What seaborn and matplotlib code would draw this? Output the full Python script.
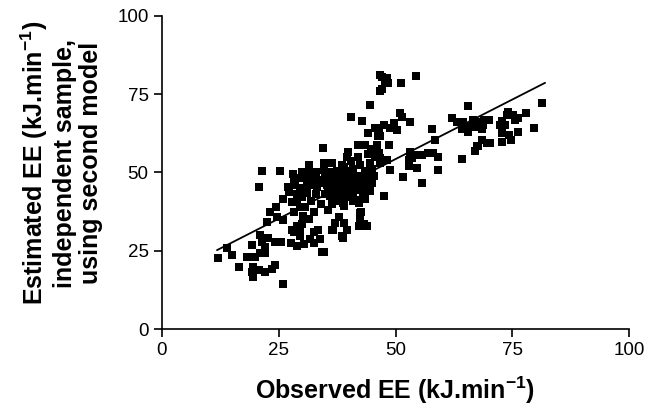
import pandas as pd
import matplotlib.pyplot as plt
import seaborn as sns

# Observed vs estimated EE (kJ.min-1)
obs_ee = [
    12.0, 13.9, 15.0, 16.6, 18.2, 19.3, 19.3, 19.5, 19.6, 19.9, 20.7, 20.7, 21.0, 21.0, 21.4, 21.4,
    22.1, 22.1, 22.1, 22.5, 22.8, 23.2, 23.5, 24.3, 24.3, 24.5, 24.6, 25.3, 25.5, 25.9, 26.0, 27.1,
    27.6, 27.8, 27.8, 28.2,
    28.5, 28.9, 28.9, 28.2, 28.9, 28.2, 29.6, 30.2, 30.7, 30.7, 31.0, 31.4, 31.4, 31.7, 31.7, 32.5,
    33.1, 33.9, 34.6, 34.6, 34.6, 34.4, 29.5, 30.0, 32.0, 33.0, 32.0, 33.5, 29.0, 30.5, 32.5, 33.5,
    30.0, 31.5, 29.5, 32.5, 34.0, 30.0, 28.0, 27.0, 26.0, 29.5,
    35.3, 36.7, 36.4, 35.5, 36.0, 36.4, 37.0, 37.5, 37.5, 38.0, 38.5, 38.9, 39.0, 39.0, 39.5, 39.6,
    39.9, 40.0, 40.0, 40.5, 40.5, 41.0, 41.0, 41.5, 42.0, 42.0, 42.1, 42.5, 42.5, 43.0, 43.0, 43.5,
    43.5, 44.0, 44.1, 44.0, 44.5, 44.8, 45.0, 45.6, 38.0, 36.0, 35.0, 37.0, 39.0, 41.0, 43.5, 45.0,
    45.5, 36.5, 38.5, 40.5, 42.0, 38.0, 40.0,
    36.0, 37.0, 38.0, 39.0, 40.0, 41.0, 42.0, 43.0, 44.0, 41.0, 39.0, 37.0, 36.0, 34.5, 35.0, 38.5,
    40.5, 42.5, 43.5, 44.5, 39.5, 37.5, 33.0, 31.0, 30.0, 29.0,
    37.8, 37.1, 38.9, 36.4, 39.6, 38.5, 38.8, 36.7, 42.4, 42.4, 43.8, 42.1, 43.2, 42.6, 38.8, 42.2,
    34.2, 35.5,
    46.7, 47.0, 48.1, 47.7, 48.4, 47.0, 46.7, 51.2, 54.3, 44.6, 40.5, 42.8, 45.6, 44.1, 46.3, 51.0,
    51.3, 53.0, 49.6, 47.5, 46.4, 48.9, 50.3, 46.7, 48.5, 46.0, 46.4, 46.7, 48.1, 46.7, 48.8, 47.5,
    53.1, 54.2, 55.6, 57.0, 58.1, 59.1, 52.8, 53.5, 52.8, 54.5, 59.0, 51.6, 55.7, 57.9, 58.4,
    62.0, 63.1, 64.3, 64.3, 65.6, 81.4, 66.6, 64.4, 67.5, 69.0, 70.0, 65.2, 66.6, 68.1, 68.8, 64.5,
    65.6, 68.5, 74.1, 73.8, 75.2, 76.3, 75.6, 78.0, 72.8, 72.4, 73.5, 72.8, 74.2, 76.3, 79.6, 74.8,
    72.8, 68.5, 69.6, 67.5, 66.9, 70.2, 67.7,
]
est_ee = [
    22.6, 25.8, 23.6, 19.9, 23.1, 26.8, 18.3, 16.7, 19.9, 23.1, 18.8, 45.5, 24.2, 30.0, 27.9, 50.3,
    18.3, 24.2, 26.2, 34.3, 29.0, 37.5, 19.3, 20.4, 27.9, 39.1, 35.9, 50.3, 27.9, 14.4, 34.8, 43.9,
    27.4, 40.7, 31.6, 47.6,
    46.0, 48.1, 41.3, 37.3, 33.0, 30.9, 29.8, 36.2, 39.1, 48.1, 43.4, 52.4, 50.8, 46.0, 28.8, 30.9,
    45.4, 28.8, 24.7, 52.9, 50.8, 57.7, 44.0, 42.0, 41.0, 43.0, 48.5, 47.5, 26.5, 27.0, 27.5, 31.5,
    33.5, 35.0, 39.0, 37.5, 40.0, 50.0, 49.5, 45.5, 41.5, 31.5,
    46.0, 47.0, 52.9, 44.0, 42.5, 39.8, 45.0, 48.0, 50.5, 43.0, 46.0, 39.3, 51.8, 48.5, 44.5, 55.0,
    56.6, 47.0, 42.0, 49.5, 45.5, 43.5, 51.0, 47.5, 58.8, 45.0, 40.4, 49.0, 52.5, 46.5, 43.0, 58.7,
    50.5, 48.0, 56.0, 45.0, 53.0, 57.6, 51.0, 55.0, 49.5, 50.0, 48.5, 41.0, 41.5, 41.0, 41.5, 46.5,
    49.0, 45.5, 52.5, 53.5, 55.0, 47.0, 50.5,
    44.0, 43.5, 45.0, 46.5, 44.0, 46.0, 47.5, 49.0, 50.5, 49.0, 48.0, 49.5, 47.5, 46.5, 43.0, 42.0,
    48.0, 44.5, 47.0, 44.0, 50.0, 46.5, 50.0, 46.5, 45.0, 43.0,
    35.9, 33.8, 33.8, 31.7, 31.7, 29.6, 29.2, 31.6, 37.2, 34.6, 33.0, 33.0, 33.7, 37.5, 40.1, 41.2,
    24.7, 38.0,
    81.2, 80.5, 80.0, 78.9, 78.4, 76.5, 76.1, 78.5, 80.8, 71.6, 67.6, 66.5, 64.1, 62.5, 61.5, 69.1,
    67.8, 66.2, 65.9, 65.2, 64.1, 64.1, 63.6, 61.5, 58.6, 58.9, 56.2, 54.6, 54.1, 53.0, 50.8, 42.6,
    56.6, 55.6, 55.6, 56.1, 56.1, 55.0, 54.0, 54.5, 51.9, 51.4, 50.8, 48.7, 46.5, 63.8, 60.4,
    67.3, 66.2, 63.8, 54.3, 71.2, 72.1, 66.8, 66.2, 66.2, 66.8, 66.8, 64.5, 64.5, 64.5, 65.0, 64.0,
    63.0, 64.0, 69.4, 68.4, 68.4, 67.3, 66.8, 68.9, 66.3, 65.2, 65.2, 62.5, 62.0, 63.0, 64.1, 60.4,
    59.6, 60.4, 59.3, 58.5, 56.9, 59.3, 58.3,
]

# fitted line, end points
line_x = [11.8, 82.0]
line_y = [25.2, 78.6]

df = pd.DataFrame({'obs': obs_ee, 'est': est_ee})
df_line = pd.DataFrame({'x': line_x, 'y': line_y})

sns.set_theme(style="ticks")
plt.rcParams['font.family'] = ['Liberation Sans', 'DejaVu Sans']
plt.rcParams['mathtext.default'] = 'regular'
plt.rcParams['text.color'] = 'black'
plt.rcParams['axes.labelcolor'] = 'black'

fig = plt.figure(figsize=(6.5, 4.15), dpi=100)
ax = fig.add_axes([0.249, 0.207, 0.719, 0.755])

sns.scatterplot(data=df, x='obs', y='est', marker='s', s=30, color='black',
                linewidth=0, ax=ax, clip_on=False)
sns.lineplot(data=df_line, x='x', y='y', color='black', linewidth=1.3, ax=ax)

ax.set_xlim(0, 100)
ax.set_ylim(0, 100)
ax.set_xticks([0, 25, 50, 75, 100])
ax.set_yticks([0, 25, 50, 75, 100])
sns.despine(ax=ax)
for side in ['left', 'bottom']:
    ax.spines[side].set_linewidth(1.2)
    ax.spines[side].set_color('black')
ax.tick_params(direction='out', length=6, width=1.2, colors='black', labelsize=13.5)

ax.set_xlabel('Observed EE (kJ.min$^{-1}$)', fontsize=18, fontweight='bold',
              labelpad=11, color='black')
ax.set_ylabel('Estimated EE (kJ.min$^{-1}$)\nindependent sample,\nusing second model',
              fontsize=18, fontweight='bold', linespacing=1.15, color='black')
ax.yaxis.set_label_coords(-0.125, 0.53)

plt.savefig('out.png', dpi=100)
